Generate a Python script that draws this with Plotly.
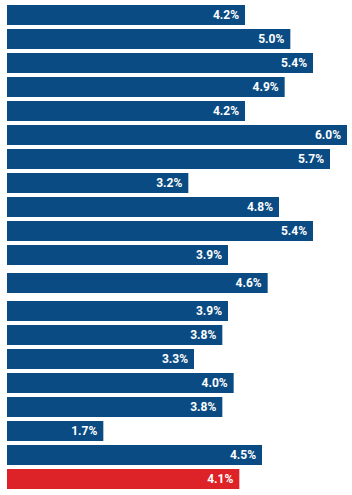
import plotly.graph_objects as go

categories = [f"Item {i+1}" for i in range(20)]
values = [4.2, 5.0, 5.4, 4.9, 4.2, 6.0, 5.7, 3.2, 4.8, 5.4,
          3.9, 4.6, 3.9, 3.8, 3.3, 4.0, 3.8, 1.7, 4.5, 4.1]
labels = [f"{v:.1f}%\u00a0" for v in values]
highlight_index = 19

BLUE = "#0a4b84"
RED = "#dd2327"
colors = [RED if i == highlight_index else BLUE for i in range(len(values))]

# slightly larger spacing around the 12th bar
gap = 1 / 6
positions = []
for i in range(len(values)):
    p = i
    if i >= 11:
        p += gap
    if i >= 12:
        p += gap
    positions.append(p)

fig = go.Figure(go.Bar(
    x=values,
    y=positions,
    orientation="h",
    width=20 / 24,
    marker=dict(color=colors, line=dict(width=0)),
    text=labels,
    textposition="inside",
    insidetextanchor="end",
    textangle=0,
    textfont=dict(family="Roboto", size=12, color="white", weight="bold"),
    hovertext=categories,
    hoverinfo="text+x",
))

fig.update_layout(
    width=352,
    height=495,
    margin=dict(l=7, r=5, t=0, b=0),
    paper_bgcolor="white",
    plot_bgcolor="white",
    showlegend=False,
    uniformtext=dict(minsize=12, mode="show"),
    xaxis=dict(range=[0, 6.0], visible=False, fixedrange=True),
    yaxis=dict(range=[positions[-1] + 16 / 24, -15 / 24], visible=False, fixedrange=True),
)

fig.write_html("out.html")
